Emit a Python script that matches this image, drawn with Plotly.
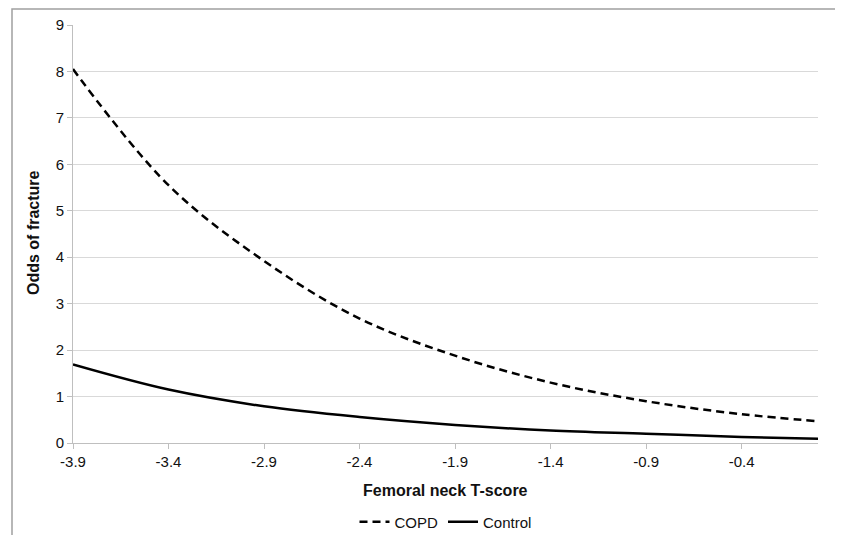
import plotly.graph_objects as go

# Data
t_score = [-3.9, -3.4, -2.9, -2.4, -1.9, -1.4, -0.9, -0.4, 0.0]
copd = [8.05, 5.55, 3.92, 2.68, 1.88, 1.30, 0.90, 0.62, 0.47]
control = [1.69, 1.15, 0.79, 0.56, 0.39, 0.27, 0.20, 0.13, 0.09]
x_tick_vals = [-3.9, -3.4, -2.9, -2.4, -1.9, -1.4, -0.9, -0.4]
x_tick_text = ["-3.9", "-3.4", "-2.9", "-2.4", "-1.9", "-1.4", "-0.9", "-0.4"]
y_tick_vals = [0, 1, 2, 3, 4, 5, 6, 7, 8, 9]

# page offset of the figure inside the html body (default body margin)
OFF = 8
W, H = 843 - OFF, 535 - OFF
L, R, T, B = 73 - OFF, 25, 25 - OFF, 92
pw, ph = W - L - R, H - T - B

def px_x(p):  # page pixel -> paper x
    return (p - OFF - L) / pw

def px_y(p):  # page pixel -> paper y
    return (H - B - (p - OFF)) / ph

def cont_y(p):  # page pixel -> container y
    return 1 - (p - OFF) / H

FONT = "Liberation Sans, Arial, sans-serif"
TXT = "#111111"

fig = go.Figure()
fig.add_trace(go.Scatter(x=t_score, y=copd, mode="lines", name="COPD",
                         line=dict(color="black", width=2.5, dash="8px,5px", shape="spline")))
fig.add_trace(go.Scatter(x=t_score, y=control, mode="lines", name="Control",
                         line=dict(color="black", width=2.5, shape="spline")))

fig.update_layout(
    width=W, height=H,
    margin=dict(l=L, r=R, t=T, b=B, autoexpand=False),
    paper_bgcolor="white", plot_bgcolor="white",
    font=dict(family=FONT, size=15, color=TXT),
    showlegend=True,
    legend=dict(orientation="h", xref="paper", x=0.5, xanchor="center",
                yref="container", y=cont_y(522), yanchor="middle",
                font=dict(size=15, color=TXT), itemwidth=30,
                bgcolor="rgba(0,0,0,0)"),
    xaxis=dict(range=[-3.9, 0.0], tickvals=x_tick_vals, ticktext=x_tick_text,
               showgrid=False, zeroline=False, showline=True, linecolor="#bfbfbf", linewidth=1,
               ticks="outside", ticklen=5, tickcolor="#bfbfbf",
               tickfont=dict(size=15, color=TXT)),
    yaxis=dict(range=[0, 9], tickvals=y_tick_vals, showgrid=True, gridcolor="#d9d9d9",
               gridwidth=1, zeroline=False, showline=True, linecolor="#bfbfbf", linewidth=1,
               ticks="outside", ticklen=5, tickcolor="#bfbfbf",
               tickfont=dict(size=15, color=TXT)),
    annotations=[
        dict(text="<b>Femoral neck T-score</b>", xref="paper", yref="paper",
             x=0.5, y=px_y(490), xanchor="center", yanchor="middle", showarrow=False,
             font=dict(size=16, color=TXT)),
        dict(text="<b>Odds of fracture</b>", xref="paper", yref="paper",
             x=px_x(33), y=px_y(233), xanchor="center", yanchor="middle", showarrow=False,
             textangle=-90, font=dict(size=16, color=TXT)),
    ],
    shapes=[
        dict(type="rect", xref="paper", yref="paper",
             x0=px_x(12), x1=px_x(842), y0=-0.4, y1=px_y(9),
             line=dict(color="#a0a0a0", width=1.5), fillcolor="rgba(0,0,0,0)", layer="below"),
    ],
)

fig.write_html("out.html")
